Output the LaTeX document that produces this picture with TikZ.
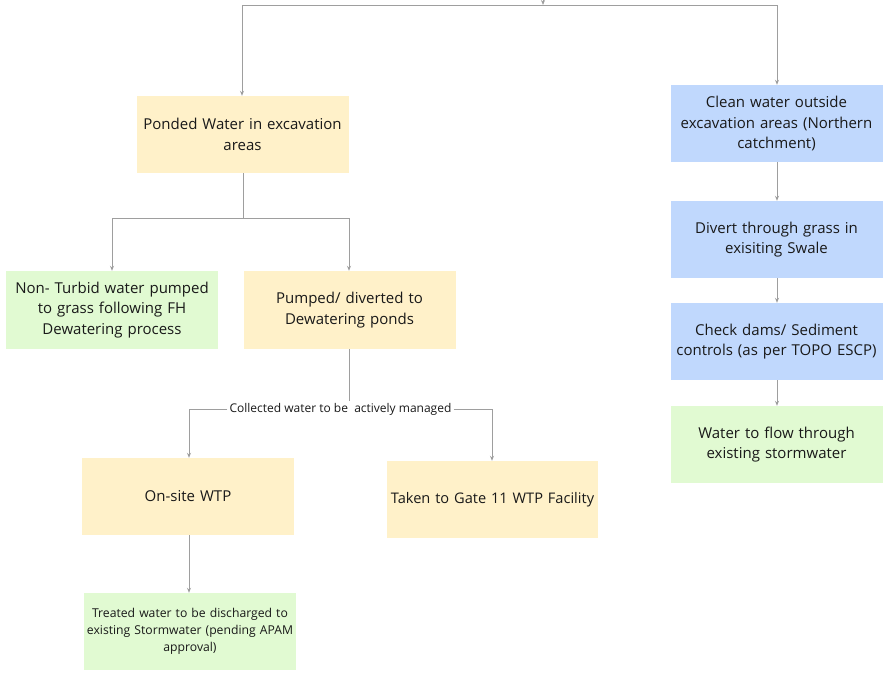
\documentclass[tikz,border=0pt]{standalone}
\usepackage{fontspec}
\setmainfont{Open Sans}
\usetikzlibrary{arrows.meta}
\definecolor{yel}{HTML}{FFF1C9}
\definecolor{blu}{HTML}{C0D8FD}
\definecolor{grn}{HTML}{E1FAD2}
\definecolor{ln}{HTML}{9E9E9E}
\tikzset{
  box/.style={draw=none, inner sep=2pt, align=center, minimum width=212pt, minimum height=77pt, text width=208pt, font=\fontsize{15}{20.5}\selectfont, text=black!90},
  ybox/.style={box, fill=yel},
  bbox/.style={box, fill=blu},
  gbox/.style={box, fill=grn},
  conn/.style={draw=ln, line width=0.9pt, -{Stealth[length=5pt,width=4pt]}},
  seg/.style={draw=ln, line width=0.9pt}
}
\begin{document}
\begin{tikzpicture}[x=1pt,y=-1pt]
\useasboundingbox (0,0) rectangle (886,672);
\node[ybox] (ponded) at (242.5,134.5) {Ponded Water in excavation\\areas};
\node[bbox] (clean) at (776.5,123.5) {Clean water outside\\excavation areas (Northern\\catchment)};
\node[bbox] (divert) at (776.5,239.5) {Divert through grass in\\exisiting Swale};
\node[bbox] (check) at (776.5,341.5) {Check dams/ Sediment\\controls (as per TOPO ESCP)};
\node[gbox] (flow) at (776.5,444.5) {Water to flow through\\existing stormwater};
\node[gbox, minimum height=78pt] (nonturb) at (112,310) {Non- Turbid water pumped\\to grass following FH\\Dewatering process};
\node[ybox, minimum height=78pt] (pumped) at (349.5,310) {Pumped/ diverted to\\Dewatering ponds};
\node[ybox] (onsite) at (188,496.5) {On-site WTP};
\node[ybox, inner sep=0pt, text width=211pt, minimum width=211pt, font=\fontsize{14.6}{20.5}\selectfont] (gate) at (492.5,499.5) {Taken to Gate 11 WTP Facility};
\node[gbox, font=\fontsize{12.2}{17}\selectfont] (treated) at (190,631.5) {Treated water to be discharged to\\existing Stormwater (pending APAM\\approval)};

% top split
\coordinate (topin) at (543,0);
\coordinate (topj) at (543,5);
\coordinate (topl) at (242,5);
\coordinate (topr) at (777,5);
\draw[conn] (topin) -- (topj);
\draw[seg] (topl) -- (topr);
\draw[conn] (topl) -- (topl |- ponded.north);
\draw[conn] (topr) -- (topr |- clean.north);

% right column
\draw[conn] (clean.south -| topr) -- (divert.north -| topr);
\draw[conn] (divert.south -| topr) -- (check.north -| topr);
\draw[conn] (check.south -| topr) -- (flow.north -| topr);

% ponded split
\coordinate (pj) at (243,218);
\draw[seg] (ponded.south -| pj) -- (pj);
\draw[seg] (112,218) -- (349,218);
\draw[conn] (112,218) -- (nonturb.north -| 112,0);
\draw[conn] (349,218) -- (pumped.north -| 349,0);

% pumped split
\coordinate (cj) at (349,409);
\draw[conn] (pumped.south -| cj) -- (cj);
\node[font=\fontsize{12}{13}\selectfont, fill=white, inner sep=2pt, text=black!90] (lbl) at (340.5,409) {Collected water to be\ \ actively managed};
\draw[seg] (lbl.west) -- (189,409);
\draw[conn] (189,409) -- (onsite.north -| 189,0);
\draw[seg] (lbl.east) -- (492,409);
\draw[conn] (492,409) -- (gate.north -| 492,0);

% onsite -> treated
\draw[conn] (onsite.south -| 189,0) -- (treated.north -| 189,0);
\end{tikzpicture}
\end{document}
